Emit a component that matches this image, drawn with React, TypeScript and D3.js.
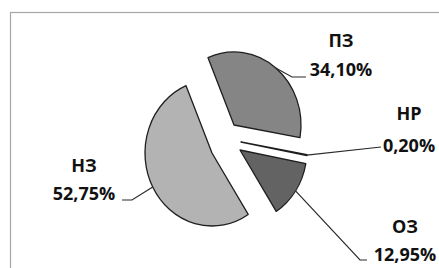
import React from 'react';
import * as d3 from 'd3';

// slice data (clockwise from the top-left edge)
const categories = ['ПЗ', 'НР', 'ОЗ', 'НЗ'];
const shares = [34.1, 0.2, 12.95, 52.75];
const shareLabels = ['34,10%', '0,20%', '12,95%', '52,75%'];

const W = 439, H = 268;
const cx = 226, cy = 142;
const rx = 67, ry = 73;
const fills = ['#858585', '#4a4a4a', '#636363', '#b3b3b3'];
// explode offset of each slice, px
const explode = [[8, -17], [15, 0], [14, 8], [-14, 11]];
// label layout: text centre x, name baseline, value baseline, leader path (elbow + end)
const labelPos = [
  { x: 341, y1: 47, y2: 76, pts: [[292, 77], [306, 77]] },
  { x: 409, y1: 120, y2: 152, pts: [[381, 147]] },
  { x: 405, y1: 233, y2: 261, pts: [[360, 260], [367, 260]] },
  { x: 84, y1: 172, y2: 200, pts: [[132, 200], [122, 200]] },
];

const App = () => {
  const start = (-22.8 * Math.PI) / 180;
  const pie = d3.pie<number>().sort(null).value((d) => d)
    .startAngle(start).endAngle(start + 2 * Math.PI);
  const arcs = pie(shares);
  const arc = d3.arc<d3.PieArcDatum<number>>().innerRadius(0).outerRadius(rx);
  const line = d3.line();

  return (
    <svg width={W} height={H} style={{ position: 'absolute', left: 0, top: 0, background: '#fff' }}
      fontFamily="'Open Sans', sans-serif">
      <rect x={10.5} y={12.5} width={W} height={H} fill="none" stroke="#a6a6a6" strokeWidth={1.2} />
      {arcs.map((a, i) => {
        const ox = cx + explode[i][0], oy = cy + explode[i][1];
        return (
          <path key={categories[i]} d={arc(a) || ''} fill={fills[i]} stroke="#1e1e1e" strokeWidth={1.3}
            vectorEffect="non-scaling-stroke" strokeLinejoin="round"
            transform={`translate(${ox},${oy}) scale(1,${ry / rx})`} />
        );
      })}
      {arcs.map((a, i) => {
        const mid = (a.startAngle + a.endAngle) / 2;
        const sx = cx + explode[i][0] + rx * Math.sin(mid);
        const sy = cy + explode[i][1] - ry * Math.cos(mid);
        const pts = [[sx, sy], ...labelPos[i].pts] as [number, number][];
        return <path key={'l' + i} d={line(pts) || ''} fill="none" stroke="#2a2a2a" strokeWidth={1.2} />;
      })}
      {categories.map((c, i) => (
        <g key={'t' + c} fill="#111" fontWeight={700} fontSize={18} textAnchor="middle">
          <text x={labelPos[i].x} y={labelPos[i].y1}>{c}</text>
          <text x={labelPos[i].x} y={labelPos[i].y2}>{shareLabels[i]}</text>
        </g>
      ))}
    </svg>
  );
};

export default App;
